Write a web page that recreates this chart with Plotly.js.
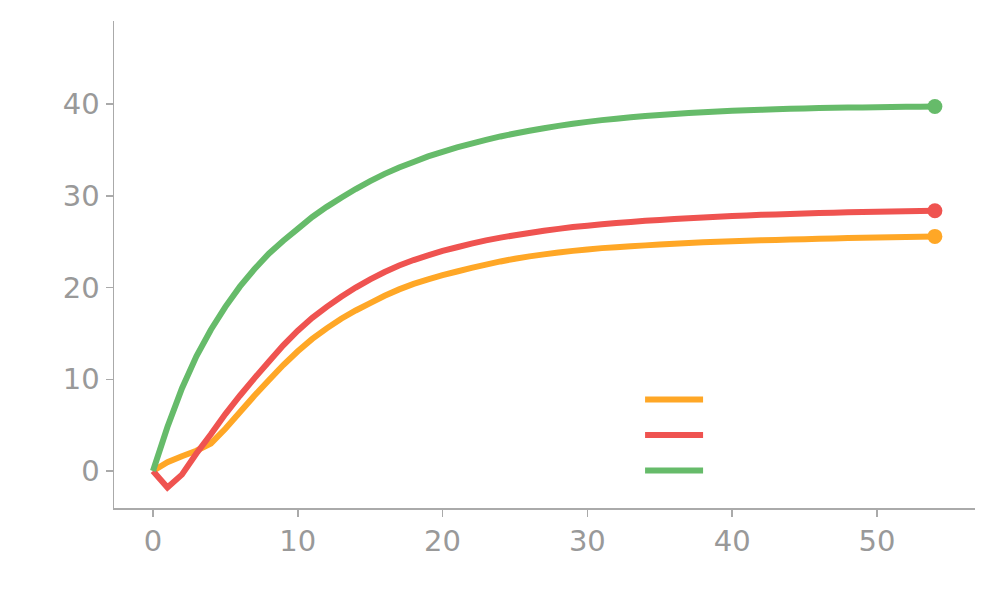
<!DOCTYPE html>
<html>
<head>
<meta charset="utf-8">
<script src="https://cdn.plot.ly/plotly-3.0.1.min.js"></script>
<style>
  html, body { margin: 0; padding: 0; background: #fff; }
  #chart { width: 997px; height: 615px; }
</style>
</head>
<body>
<div id="chart"></div>
<script>
// values, one per step 0..54
var steps = [];
for (var i = 0; i <= 54; i++) steps.push(i);

var orange = [0, 0.95, 1.6, 2.2, 3.0, 4.6, 6.4, 8.2, 9.9, 11.55,
  13.05, 14.4, 15.55, 16.6, 17.5, 18.3, 19.1, 19.8, 20.4, 20.9,
  21.35, 21.75, 22.15, 22.5, 22.85, 23.15, 23.4, 23.62, 23.82, 24.0,
  24.15, 24.3, 24.4, 24.5, 24.6, 24.7, 24.78, 24.86, 24.93, 25.0,
  25.05, 25.1, 25.15, 25.2, 25.24, 25.28, 25.32, 25.36, 25.4, 25.43,
  25.46, 25.49, 25.52, 25.55, 25.58];

var red = [0, -1.8, -0.4, 1.9, 4.0, 6.2, 8.2, 10.1, 11.9, 13.7,
  15.3, 16.7, 17.9, 19.0, 20.0, 20.9, 21.7, 22.4, 23.0, 23.5,
  24.0, 24.4, 24.8, 25.15, 25.45, 25.7, 25.95, 26.2, 26.4, 26.6,
  26.75, 26.9, 27.05, 27.15, 27.28, 27.38, 27.48, 27.57, 27.65, 27.73,
  27.8, 27.87, 27.93, 27.98, 28.03, 28.08, 28.12, 28.16, 28.2, 28.23,
  28.26, 28.29, 28.32, 28.35, 28.38];

var green = [0, 4.8, 9.0, 12.5, 15.4, 17.9, 20.1, 22.0, 23.7, 25.1,
  26.4, 27.7, 28.8, 29.8, 30.75, 31.6, 32.4, 33.1, 33.7, 34.3,
  34.8, 35.28, 35.7, 36.1, 36.48, 36.8, 37.1, 37.38, 37.63, 37.86,
  38.07, 38.26, 38.42, 38.57, 38.7, 38.82, 38.93, 39.03, 39.12, 39.2,
  39.27, 39.33, 39.39, 39.44, 39.49, 39.53, 39.57, 39.6, 39.63, 39.65,
  39.67, 39.69, 39.71, 39.73, 39.75];

var series = [
  {y: orange, color: "#FFA726"},
  {y: red, color: "#EF5350"},
  {y: green, color: "#66BB6A"}
];

var traces = [];
series.forEach(function(s) {
  traces.push({
    x: steps, y: s.y, type: "scatter", mode: "lines", name: "",
    line: {color: s.color, width: 6, simplify: false}, hoverinfo: "skip"
  });
});
// dot on the last point of each line
series.forEach(function(s) {
  var last = s.y.length - 1;
  traces.push({
    x: [steps[last]], y: [s.y[last]], type: "scatter", mode: "markers",
    showlegend: false, marker: {color: s.color, size: 15}
  });
});

var axisStyle = {
  showgrid: false, zeroline: false, showline: true,
  linecolor: "#aaaaaa", linewidth: 1.5,
  ticks: "outside", ticklen: 7, tickcolor: "#aaaaaa", tickwidth: 1.5,
  tickfont: {family: "DejaVu Sans", size: 29, color: "#999999"}
};

var layout = {
  width: 997, height: 615,
  margin: {l: 114, r: 22, t: 21, b: 107},
  paper_bgcolor: "#fff", plot_bgcolor: "#fff",
  xaxis: Object.assign({range: [-2.69, 56.77], dtick: 10}, axisStyle),
  yaxis: Object.assign({range: [-4.04, 49.07], dtick: 10}, axisStyle),
  showlegend: true,
  legend: {
    x: 0.611, y: 0.2697, xanchor: "left", yanchor: "top",
    itemwidth: 58, font: {family: "DejaVu Sans", size: 25, color: "#999"},
    bgcolor: "rgba(0,0,0,0)"
  }
};

Plotly.newPlot("chart", traces, layout, {displayModeBar: false, staticPlot: true});
</script>
</body>
</html>
